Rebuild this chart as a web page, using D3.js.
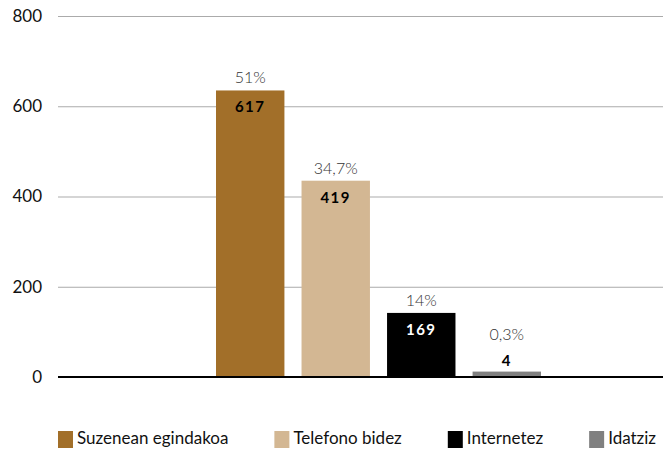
<!DOCTYPE html>
<html>
<head>
<meta charset="utf-8">
<script src="https://cdn.jsdelivr.net/npm/d3@7"></script>
<style>
  body { margin: 0; background: #fff; }
  svg { display: block; font-family: Lato, "Open Sans", sans-serif; }
</style>
</head>
<body>
<svg id="chart"></svg>
<script>
let width = 663;
let height = 449;
let margin = {"top": 16, "bottom": 72, "left": 58, "right": 0};

// data
const series = ["Suzenean egindakoa", "Telefono bidez", "Internetez", "Idatziz"];
const barValues = [635, 435, 142, 12];      // bar heights as drawn
const valueLabels = ["617", "419", "169", "4"];
const percentLabels = ["51%", "34,7%", "14%", "0,3%"];
const yTicks = [0, 200, 400, 600, 800];

const colors = d3.scaleOrdinal()
    .domain(series)
    .range(["#A26F29", "#D3B793", "#000000", "#808080"]);

let svg = d3.select("#chart")
    .attr("width", width)
    .attr("height", height);

let y = d3.scaleLinear()
    .domain([0, 800])
    .range([377, margin.top]);

let x = d3.scaleBand()
    .domain(series)
    .range([216, 541])
    .paddingInner(0.2);

// gridlines
svg.append("g").selectAll("line")
    .data(yTicks.filter(d => d > 0))
    .enter().append("line")
    .attr("x1", margin.left)
    .attr("x2", width)
    .attr("y1", d => y(d) + 0.5)
    .attr("y2", d => y(d) + 0.5)
    .style("stroke", "#ababab")
    .style("stroke-width", 1);

// y labels
svg.append("g").selectAll("text")
    .data(yTicks)
    .enter().append("text")
    .attr("x", 42)
    .attr("y", d => y(d))
    .attr("dy", "0.35em")
    .style("text-anchor", "end")
    .style("font-size", "17px")
    .style("fill", "#111")
    .text(d => d);

let data = series.map((s, i) => ({
    key: s,
    value: barValues[i],
    label: valueLabels[i],
    pct: percentLabels[i]
}));

// bars
svg.append("g").selectAll("rect")
    .data(data)
    .enter().append("rect")
    .attr("x", d => x(d.key))
    .attr("width", x.bandwidth())
    .attr("y", d => y(d.value))
    .attr("height", d => y(0) - y(d.value))
    .style("fill", d => colors(d.key));

// zero line
svg.append("line")
    .attr("x1", margin.left)
    .attr("x2", width)
    .attr("y1", y(0))
    .attr("y2", y(0))
    .style("stroke", "#000")
    .style("stroke-width", 2);

// labels
let labels = svg.append("g").selectAll("g")
    .data(data)
    .enter().append("g");

labels.append("text")
    .attr("x", d => x(d.key) + x.bandwidth() / 2)
    .attr("y", d => d.value < 50 ? y(d.value) - 32 : y(d.value) - 7)
    .style("text-anchor", "middle")
    .style("font-size", "16px")
    .style("font-weight", 300)
    .style("fill", "#333")
    .text(d => d.pct);

labels.append("text")
    .attr("x", d => x(d.key) + x.bandwidth() / 2)
    .attr("y", d => d.value < 50 ? y(d.value) - 6 : y(d.value) + 22)
    .style("text-anchor", "middle")
    .style("font-size", "15px")
    .style("font-weight", "bold")
    .style("letter-spacing", "1.5px")
    .style("fill", d => d.key == "Internetez" ? "#fff" : "#000")
    .text(d => d.label);

// legend
let legend = svg.append("g");
let lx = 58;
series.forEach(function(s) {
    legend.append("rect")
        .attr("x", lx)
        .attr("y", 431)
        .attr("width", 15)
        .attr("height", 17)
        .style("fill", colors(s));
    let t = legend.append("text")
        .attr("x", lx + 19)
        .attr("y", 444)
        .style("font-size", "17px")
        .style("fill", "#111")
        .text(s);
    lx += 19 + t.node().getComputedTextLength() + 46;
});
</script>
</body>
</html>
